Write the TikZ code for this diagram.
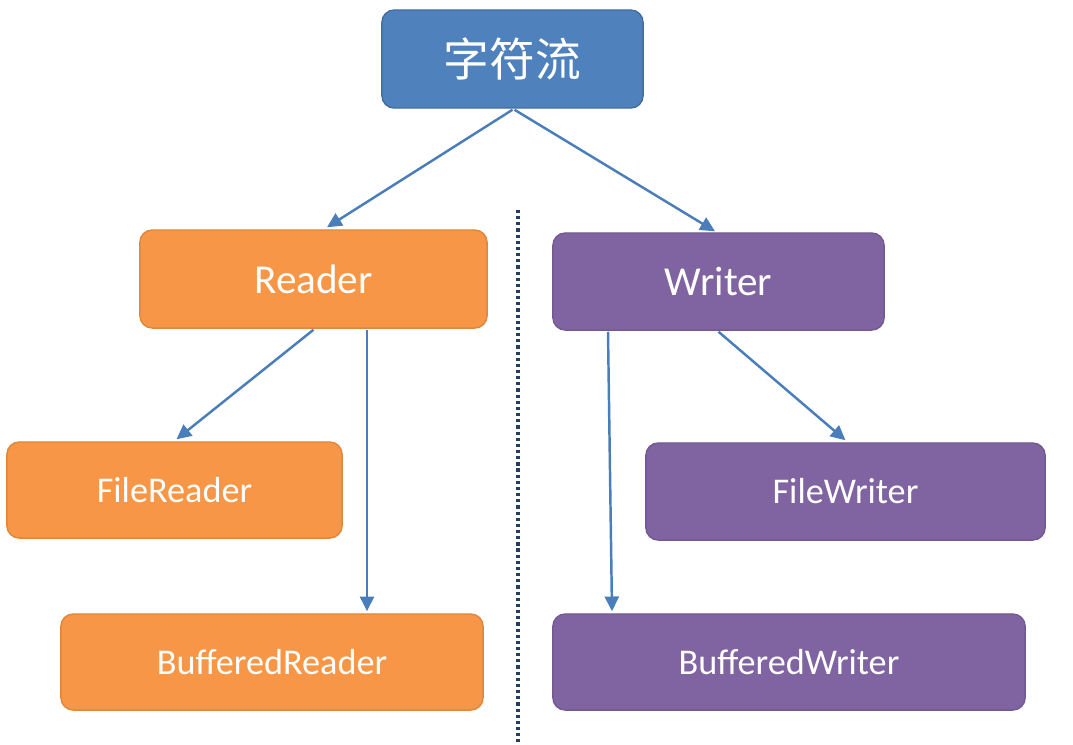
\documentclass[tikz,border=0pt]{standalone}
\usepackage{fontspec}
\setmainfont{Carlito}
\newfontfamily\cjk{Noto Sans CJK SC}
\usetikzlibrary{arrows.meta, calc}

\definecolor{rootblue}{HTML}{4F81BD}
\definecolor{readerorange}{HTML}{F79646}
\definecolor{writerpurple}{HTML}{8064A2}
\definecolor{arrowblue}{HTML}{4A7EBB}
\definecolor{divnavy}{HTML}{243F60}

\begin{document}
\begin{tikzpicture}[x=0.01cm, y=-0.01cm,
  box/.style={rounded corners=3.5pt, text=white, line width=0.4pt, inner sep=0pt},
  rootbox/.style={box, fill=rootblue, draw=rootblue!85!black,
    minimum width=2.61cm, minimum height=0.98cm, font=\cjk\fontsize{13}{15}\selectfont},
  readerbox/.style={box, fill=readerorange, draw=readerorange!90!black},
  writerbox/.style={box, fill=writerpurple, draw=writerpurple!90!black},
  toplevel/.style={font=\fontsize{11.7}{14}\selectfont},
  sublevel/.style={font=\fontsize{10.3}{12}\selectfont},
  link/.style={draw=arrowblue, line width=0.7pt, -{Triangle[length=4.2pt, width=4pt]}}]

  \useasboundingbox (0,0) rectangle (1073,744);

  % Root
  \node[rootbox] (root) at (512.5,59) {字符流};

  % Reader side
  \node[readerbox, toplevel, minimum width=3.47cm, minimum height=0.98cm] (reader) at (313.5,279) {Reader};
  \node[readerbox, sublevel, minimum width=3.35cm, minimum height=0.96cm] (filereader) at (174.5,490) {FileReader};
  \node[readerbox, sublevel, minimum width=4.22cm, minimum height=0.96cm] (bufreader) at (272,662) {BufferedReader};

  % Writer side
  \node[writerbox, toplevel, minimum width=3.31cm, minimum height=0.97cm] (writer) at (718.5,281.5) {Writer};
  \node[writerbox, sublevel, minimum width=3.99cm, minimum height=0.97cm] (filewriter) at (845.5,491.5) {FileWriter};
  \node[writerbox, sublevel, minimum width=4.72cm, minimum height=0.96cm] (bufwriter) at (789,662) {BufferedWriter};

  % Arrows
  \draw[link] ($(root.south)+(0,1)$) -- ($(reader.north)+(13.5,-2)$);
  \draw[link] ($(root.south)+(2,1)$) -- ($(writer.north)+(-3.5,-1)$);
  \draw[link] ($(reader.south)+(0,1)$) -- ($(filereader.north)+(2,-2)$);
  \draw[link] ($(reader.south)+(53.5,1)$) -- ($(bufreader.north)+(95,-2)$);
  \draw[link] ($(writer.south)+(-110.5,1)$) -- ($(bufwriter.north)+(-177,-2)$);
  \draw[link] ($(writer.south)+(0,1)$) -- ($(filewriter.north)+(0,-2)$);

  % Divider
  \coordinate (divtop) at (518,210);
  \coordinate (divbot) at (518,744);
  \draw[divnavy, line width=1.1pt, dash pattern=on 0.9pt off 0.85pt] (divtop) -- (divbot);

\end{tikzpicture}
\end{document}
